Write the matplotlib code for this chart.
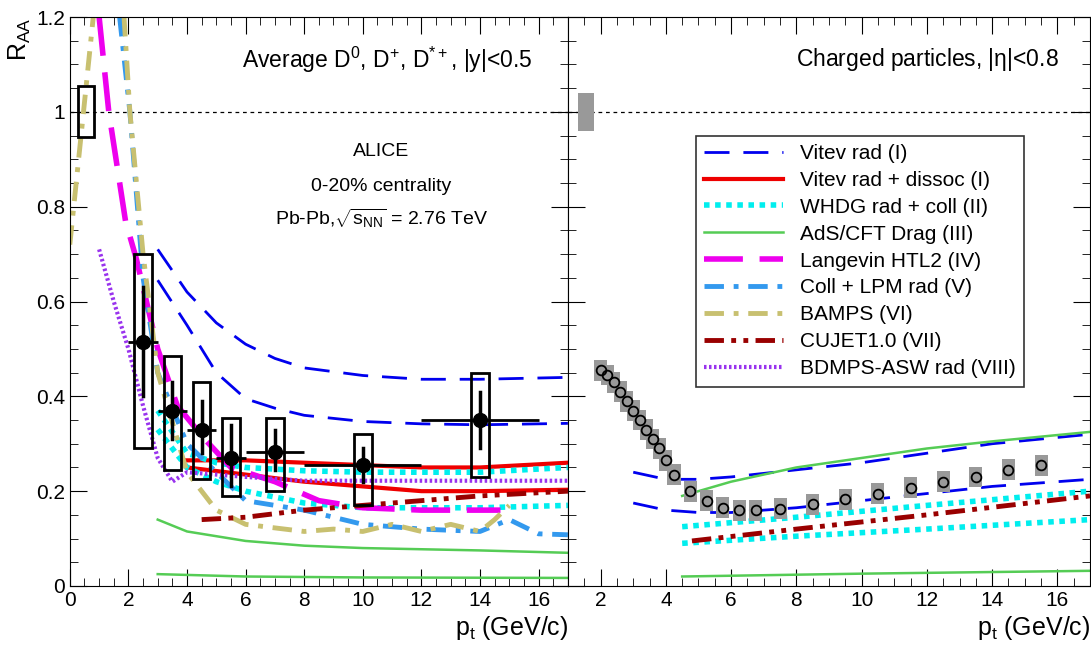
import matplotlib
matplotlib.use('Agg')
import matplotlib.pyplot as plt
from matplotlib.ticker import MultipleLocator
from matplotlib.patches import Rectangle
from matplotlib.lines import Line2D

plt.rcParams['font.family'] = ['Liberation Sans', 'DejaVu Sans']
plt.rcParams['mathtext.fontset'] = 'custom'
plt.rcParams['mathtext.rm'] = 'Liberation Sans'
plt.rcParams['mathtext.it'] = 'Liberation Sans'
plt.rcParams['mathtext.bf'] = 'Liberation Sans:bold'

# ---- Left panel: D mesons ----
d_pt = [2.5, 3.5, 4.5, 5.5, 7.0, 10.0, 14.0]
d_xerr = [0.5, 0.5, 0.5, 0.5, 1.0, 2.0, 2.0]
d_raa = [0.515, 0.37, 0.33, 0.27, 0.283, 0.255, 0.35]
d_stat_lo = [0.40, 0.31, 0.28, 0.21, 0.245, 0.22, 0.29]
d_stat_hi = [0.63, 0.43, 0.39, 0.34, 0.33, 0.29, 0.41]
d_sys_lo = [0.29, 0.245, 0.225, 0.19, 0.20, 0.17, 0.23]
d_sys_hi = [0.70, 0.485, 0.43, 0.355, 0.355, 0.32, 0.45]

L = {
 'vitev_hi': ([3,4,5,6,7,8,10,12,14,17],[0.71,0.62,0.555,0.51,0.48,0.46,0.444,0.436,0.436,0.44]),
 'vitev_lo': ([3,4,5,6,7,8,10,12,14,17],[0.645,0.55,0.45,0.395,0.375,0.36,0.347,0.342,0.34,0.343]),
 'red_hi': ([4,6,8,10,12,14,17],[0.265,0.265,0.26,0.255,0.25,0.25,0.26]),
 'red_lo': ([4,6,8,10,12,14,17],[0.25,0.235,0.22,0.21,0.2,0.2,0.203]),
 'cyan_hi': ([3,4,5,6,8,10,14,17],[0.37,0.28,0.26,0.25,0.243,0.24,0.24,0.25]),
 'cyan_lo': ([3,4,5,6,8,10,14,17],[0.33,0.25,0.22,0.2,0.175,0.165,0.165,0.17]),
 'green_hi': ([3,4,6,8,10,14,17],[0.14,0.115,0.095,0.085,0.08,0.075,0.07]),
 'green_lo': ([3,6,10,17],[0.025,0.02,0.018,0.017]),
 'langevin': ([1.0,1.33,1.9,2.27,3.0,3.67,4.6,5.5,7,8.5,10,12,14,14.7],[1.2,1.0,0.77,0.69,0.5,0.38,0.31,0.25,0.22,0.18,0.165,0.16,0.16,0.16]),
 'colllpm': ([1.7,2.05,2.5,3,4,5,6,8,10,12,14,15,16,17],[1.2,1.0,0.65,0.45,0.3,0.24,0.18,0.16,0.13,0.12,0.115,0.14,0.11,0.108]),
 'bamps_a': ([0.0,0.3,0.6,0.8],[0.72,0.9,1.08,1.2]),
 'bamps_b': ([1.85,2.05,2.5,3,4,5,6,8,9,10,11,12,13,14,14.5,15],[1.2,1.0,0.7,0.45,0.24,0.16,0.13,0.115,0.12,0.115,0.13,0.115,0.13,0.115,0.14,0.17]),
 'cujet': ([4.5,6,8,10,12,14,17],[0.14,0.145,0.16,0.17,0.18,0.19,0.2]),
 'bdmps': ([1.0,1.5,2.0,2.5,3.0,3.5,4,6,8,12,17],[0.71,0.6,0.5,0.38,0.27,0.22,0.24,0.23,0.222,0.222,0.222]),
}

# ---- Right panel: charged particles ----
h_pt = [2.0,2.2,2.4,2.6,2.8,3.0,3.2,3.4,3.6,3.8,4.0,4.25,4.75,5.25,5.75,6.25,6.75,7.5,8.5,9.5,10.5,11.5,12.5,13.5,14.5,15.5]
h_raa = [0.455,0.445,0.43,0.41,0.39,0.37,0.35,0.33,0.31,0.29,0.265,0.235,0.2,0.18,0.165,0.16,0.16,0.163,0.172,0.183,0.195,0.207,0.22,0.23,0.245,0.255]

R = {
 'vitev_hi': ([3,4,5,6,8,10,12,14,17],[0.24,0.225,0.225,0.23,0.245,0.26,0.28,0.3,0.32]),
 'vitev_lo': ([3,4,5,6,8,10,12,14,17],[0.175,0.16,0.155,0.155,0.165,0.18,0.195,0.21,0.225]),
 'green_hi': ([4.5,6,8,10,12,14,17],[0.19,0.22,0.25,0.27,0.29,0.305,0.325]),
 'green_lo': ([4.5,10,17],[0.02,0.026,0.032]),
 'cyan_hi': ([4.5,8,12,17],[0.125,0.145,0.17,0.2]),
 'cyan_lo': ([4.5,8,12,17],[0.09,0.105,0.12,0.14]),
 'cujet': ([4.8,8,12,17],[0.095,0.12,0.15,0.19]),
}

ST = {
 'vitev': dict(color='#0000ee', lw=2, dashes=(9, 5)),
 'red': dict(color='#ee0000', lw=3, ls='-'),
 'cyan': dict(color='#00eeee', lw=4, dashes=(1, 1)),
 'green': dict(color='#55cc55', lw=1.8, ls='-'),
 'langevin': dict(color='#ee00ee', lw=4, dashes=(7, 3)),
 'colllpm': dict(color='#3399ee', lw=3.5, dashes=(4, 2, 1, 2)),
 'bamps': dict(color='#c8c070', lw=3.5, dashes=(4, 2, 1, 2)),
 'cujet': dict(color='#990000', lw=3.5, dashes=(4, 1.5, 1, 1.5, 1, 1.5)),
 'bdmps': dict(color='#9933ee', lw=3, dashes=(0.6, 0.6)),
}
def style(key):
    for k in ST:
        if key.startswith(k):
            return ST[k]

fig = plt.figure(figsize=(10.91, 6.48), dpi=100)
ax1 = fig.add_axes([0.064, 0.0957, 0.4565, 0.878])
ax2 = fig.add_axes([0.5206, 0.0957, 0.4785, 0.878])

for ax, xlim in ((ax1, (0, 17)), (ax2, (1, 17))):
    ax.set_xlim(*xlim); ax.set_ylim(0, 1.2)
    ax.xaxis.set_major_locator(MultipleLocator(2)); ax.xaxis.set_minor_locator(MultipleLocator(0.5))
    ax.yaxis.set_major_locator(MultipleLocator(0.2)); ax.yaxis.set_minor_locator(MultipleLocator(0.05))
    ax.tick_params(which='both', direction='in', top=True, right=True, labelsize=15)
    ax.tick_params(which='major', length=12)
    ax.tick_params(which='minor', length=6)
    ax.axhline(1.0, color='black', lw=0.9, ls=(0, (3, 3)))
    ax.set_xlabel('p$_{\\mathrm{t}}$ (GeV/c)', fontsize=18, loc='right', labelpad=3)
ax1.set_yticks([0, 0.2, 0.4, 0.6, 0.8, 1.0, 1.2])
ax1.set_yticklabels(['0', '0.2', '0.4', '0.6', '0.8', '1', '1.2'])
ax1.set_xticks(range(0, 17, 2))
ax2.set_xticks(range(2, 17, 2))
ax2.tick_params(labelleft=False)
ax1.set_ylabel('R$_{\\mathrm{AA}}$', fontsize=18, loc='top', labelpad=2)

for k, (x, y) in L.items():
    ax1.plot(x, y, **style(k), clip_on=True)

for i in range(len(d_pt)):
    ax1.add_patch(Rectangle((d_pt[i]-0.3, d_sys_lo[i]), 0.6, d_sys_hi[i]-d_sys_lo[i],
                            fill=False, ec='black', lw=2, zorder=5))
    ax1.plot([d_pt[i], d_pt[i]], [d_stat_lo[i], d_stat_hi[i]], color='black', lw=2.5, zorder=6)
ax1.errorbar(d_pt, d_raa, xerr=d_xerr, fmt='o', color='black', ms=10, lw=2, zorder=7, capsize=0)
ax1.add_patch(Rectangle((0.27, 0.946), 0.55, 0.108, fill=False, ec='black', lw=2, zorder=5))

ax1.text(0.93, 0.925, 'Average D$^{0}$, D$^{+}$, D$^{*+}$, |y|<0.5', transform=ax1.transAxes,
         ha='right', va='center', fontsize=16.5)
ax1.text(0.625, 0.755, 'ALICE', transform=ax1.transAxes, ha='center', fontsize=14)
ax1.text(0.625, 0.695, '0-20% centrality', transform=ax1.transAxes, ha='center', fontsize=14)
ax1.text(0.625, 0.635, 'Pb-Pb,$\\sqrt{s_{\\mathrm{NN}}}$ = 2.76 TeV', transform=ax1.transAxes, ha='center', fontsize=14)

for k, (x, y) in R.items():
    ax2.plot(x, y, **style(k))
for x, y in zip(h_pt, h_raa):
    ax2.add_patch(Rectangle((x-0.2, y-0.022), 0.4, 0.044, color='#999999', lw=0, zorder=4))
ax2.plot(h_pt, h_raa, 'o', mfc='none', mec='black', ms=7, mew=1.3, zorder=6)
ax2.add_patch(Rectangle((1.3, 0.96), 0.5, 0.08, color='#999999', lw=0, zorder=4))
ax2.text(0.94, 0.925, 'Charged particles, |$\\eta$|<0.8', transform=ax2.transAxes,
         ha='right', va='center', fontsize=16.5)

labels = ['Vitev rad (I)', 'Vitev rad + dissoc (I)', 'WHDG rad + coll (II)', 'AdS/CFT Drag (III)',
          'Langevin HTL2 (IV)', 'Coll + LPM rad (V)', 'BAMPS (VI)', 'CUJET1.0 (VII)', 'BDMPS-ASW rad (VIII)']
keys = ['vitev', 'red', 'cyan', 'green', 'langevin', 'colllpm', 'bamps', 'cujet', 'bdmps']
handles = [Line2D([0], [0], **ST[k]) for k in keys]
leg = ax2.legend(handles, labels, loc='upper left', bbox_to_anchor=(0.225, 0.81), fontsize=15,
                 frameon=True, fancybox=False, edgecolor='black', handlelength=3.8,
                 labelspacing=0.38, borderpad=0.4)
leg.get_frame().set_linewidth(1.2)

fig.savefig('out.png', dpi=100)
